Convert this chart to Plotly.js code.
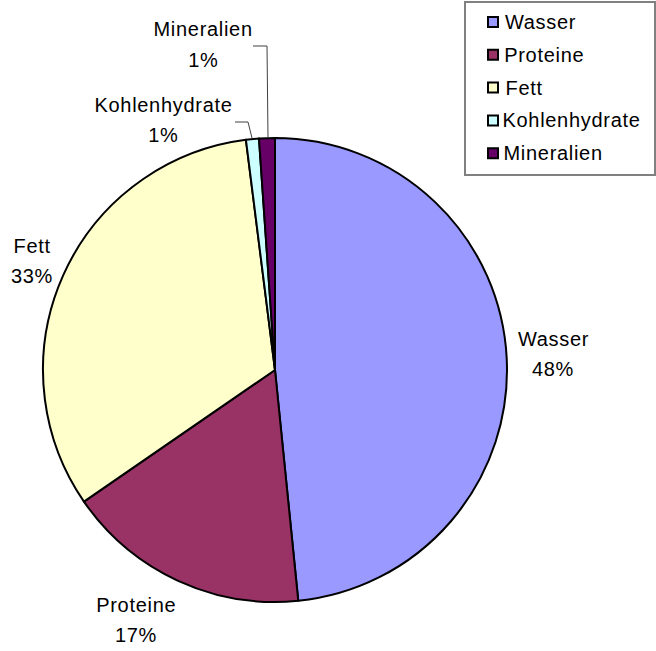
<!DOCTYPE html>
<html>
<head>
<meta charset="utf-8">
<script src="https://cdn.plot.ly/plotly-3.0.1.min.js"></script>
<style>
  html, body { margin: 0; padding: 0; background: #ffffff; }
  #chart { width: 656px; height: 651px; }
  .main-svg text { letter-spacing: 0.7px; }
</style>
</head>
<body>
<div id="chart"></div>
<script>
// ---- data ----
const categories = ['Wasser', 'Proteine', 'Fett', 'Kohlenhydrate', 'Mineralien'];
const values = [48.4, 17.0, 32.6, 0.9, 1.1];
const colors = ['#9999FF', '#993366', '#FFFFCC', '#CCFFFF', '#660066'];

// ---- layout helpers (pixel -> paper) ----
const W = 656, H = 651;
const px = x => x / W;
const py = y => 1 - y / H;

const total = values.reduce((a, b) => a + b, 0);
const pctText = values.map(v => Math.round(v / total * 100) + '%');

const FONT = { family: 'Liberation Sans, Arial, sans-serif', size: 20, color: '#000000' };

// label placements (name line centre, percent line centre)
const labelPos = [
  { x: 553, yName: 339, yPct: 369 },
  { x: 136, yName: 605, yPct: 635 },
  { x: 32,  yName: 246, yPct: 276 },
  { x: 163, yName: 105, yPct: 135 },
  { x: 203, yName: 29,  yPct: 60 }
];

const annotations = [];
categories.forEach((c, i) => {
  const p = labelPos[i];
  annotations.push({ xref: 'paper', yref: 'paper', x: px(p.x), y: py(p.yName), text: c,
    showarrow: false, xanchor: 'center', yanchor: 'middle', font: FONT });
  annotations.push({ xref: 'paper', yref: 'paper', x: px(p.x), y: py(p.yPct), text: pctText[i],
    showarrow: false, xanchor: 'center', yanchor: 'middle', font: FONT });
});

// manual legend
const legendTop = 22, legendStep = 32.8;
const shapes = [
  { type: 'rect', xref: 'paper', yref: 'paper', x0: px(465), x1: px(655), y0: py(2), y1: py(175),
    line: { color: '#808080', width: 2 }, fillcolor: 'rgba(0,0,0,0)' }
];
categories.forEach((c, i) => {
  const cy = legendTop + i * legendStep;
  shapes.push({ type: 'rect', xref: 'paper', yref: 'paper',
    x0: px(488), x1: px(498), y0: py(cy - 5), y1: py(cy + 5),
    line: { color: '#000000', width: 2 }, fillcolor: colors[i] });
  annotations.push({ xref: 'paper', yref: 'paper', x: px(505), y: py(cy), text: c,
    showarrow: false, xanchor: 'left', yanchor: 'middle', font: FONT });
});

// leader lines for small slices
shapes.push({ type: 'path', xref: 'paper', yref: 'paper',
  path: `M ${px(253)} ${py(46)} L ${px(267)} ${py(46)} L ${px(268)} ${py(138)}`,
  line: { color: '#404040', width: 1 } });
shapes.push({ type: 'path', xref: 'paper', yref: 'paper',
  path: `M ${px(235)} ${py(122)} L ${px(248)} ${py(122)} L ${px(252)} ${py(138)}`,
  line: { color: '#404040', width: 1 } });

const trace = {
  type: 'pie',
  labels: categories,
  values: values,
  sort: false,
  direction: 'clockwise',
  rotation: 0,
  textinfo: 'none',
  hoverinfo: 'label+percent',
  marker: { colors: colors, line: { color: '#000000', width: 2 } },
  domain: { x: [px(43), px(507)], y: [py(602), py(138)] },
  showlegend: false
};

const layout = {
  width: W, height: H,
  margin: { l: 0, r: 0, t: 0, b: 0 },
  paper_bgcolor: '#ffffff',
  plot_bgcolor: '#ffffff',
  showlegend: false,
  font: FONT,
  annotations: annotations,
  shapes: shapes
};

Plotly.newPlot('chart', [trace], layout, { displayModeBar: false, staticPlot: true });
</script>
</body>
</html>
